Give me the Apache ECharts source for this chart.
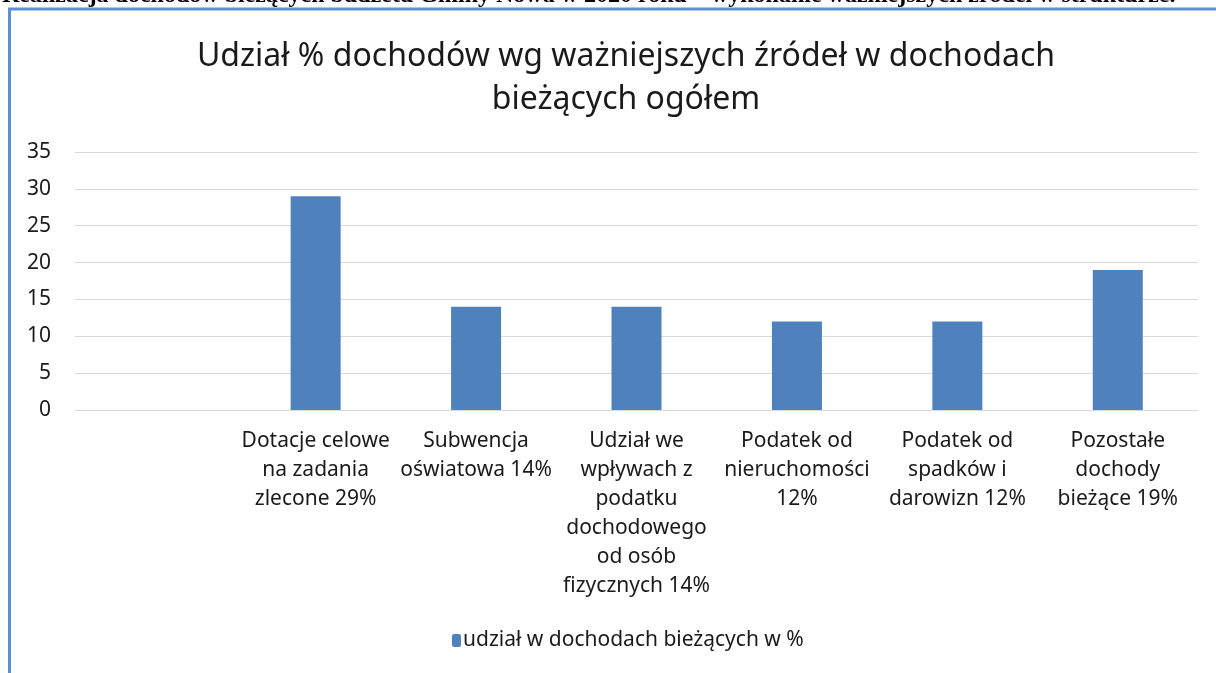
<!DOCTYPE html>
<html>
<head>
<meta charset="utf-8">
<script src="https://cdn.jsdelivr.net/npm/echarts@6/dist/echarts.min.js"></script>
<style>
  html, body { margin: 0; padding: 0; background: #fff; }
  #chart { width: 1216px; height: 673px; }
</style>
</head>
<body>
<div id="chart"></div>
<script>
// dane z wykresu
var categories = [
    '',
    'Dotacje celowe\nna zadania\nzlecone 29%',
    'Subwencja\noświatowa 14%',
    'Udział we\nwpływach z\npodatku\ndochodowego\nod osób\nfizycznych 14%',
    'Podatek od\nnieruchomości\n12%',
    'Podatek od\nspadków i\ndarowizn 12%',
    'Pozostałe\ndochody\nbieżące 19%'
];
var values = [null, 29, 14, 14, 12, 12, 19];
var yTicks = [0, 5, 10, 15, 20, 25, 30, 35];
var seriesName = 'udział w dochodach bieżących w %';

var fontFamily = 'Noto Sans';
var fontColor = '#1a1a1a';
var barColor = '#4f81bd';
var frameColor = '#5b8fd6';

var myChart = echarts.init(document.getElementById('chart'));

var option = {
    animation: false,
    backgroundColor: '#fff',
    textStyle: { fontFamily: fontFamily },
    title: {
        text: 'Udział % dochodów wg ważniejszych źródeł w dochodach\nbieżących ogółem',
        left: 621,
        top: 30,
        padding: 5,
        textAlign: 'center',
        textStyle: {
            fontFamily: fontFamily,
            fontSize: 32,
            fontWeight: 'normal',
            color: fontColor,
            lineHeight: 43
        }
    },
    legend: {
        bottom: 22,
        left: 452,
        padding: 0,
        itemWidth: 9,
        itemHeight: 13,
        itemGap: 6,
        textStyle: { fontSize: 21, color: fontColor, fontFamily: fontFamily, padding: [0, 0, 0, -3] },
        data: [seriesName]
    },
    grid: {
        left: 75,
        right: 18,
        top: 152,
        bottom: 263,
        containLabel: false
    },
    xAxis: {
        type: 'category',
        data: categories,
        axisLine: { show: true, lineStyle: { color: '#d9d9d9', width: 1 } },
        axisTick: { show: false },
        axisLabel: {
            interval: 0,
            margin: 17,
            fontSize: 21,
            lineHeight: 29,
            color: fontColor,
            fontFamily: fontFamily,
            align: 'center'
        }
    },
    yAxis: {
        type: 'value',
        min: yTicks[0],
        max: yTicks[yTicks.length - 1],
        interval: 5,
        axisLine: { show: false },
        axisTick: { show: false },
        splitLine: { lineStyle: { color: '#d9d9d9', width: 1 } },
        axisLabel: {
            margin: 24,
            fontSize: 21,
            color: fontColor,
            fontFamily: fontFamily
        }
    },
    series: [{
        name: seriesName,
        type: 'bar',
        data: values,
        barWidth: 50,
        itemStyle: { color: barColor }
    }],
    graphic: [
        {
            type: 'text',
            left: 2,
            top: -16,
            style: {
                text: 'Realizacja dochodów bieżących budżetu Gminy Nowa w 2020 roku – wykonanie ważniejszych źródeł w strukturze.',
                font: 'bold 24px "Liberation Serif"',
                fill: '#000'
            }
        },
        {
            type: 'line',
            shape: { x1: 8, y1: 9, x2: 1216, y2: 9 },
            style: { stroke: frameColor, lineWidth: 3 }
        },
        {
            type: 'line',
            shape: { x1: 9.5, y1: 8, x2: 9.5, y2: 673 },
            style: { stroke: frameColor, lineWidth: 3 }
        }
    ]
};
myChart.setOption(option);
</script>
</body>
</html>
